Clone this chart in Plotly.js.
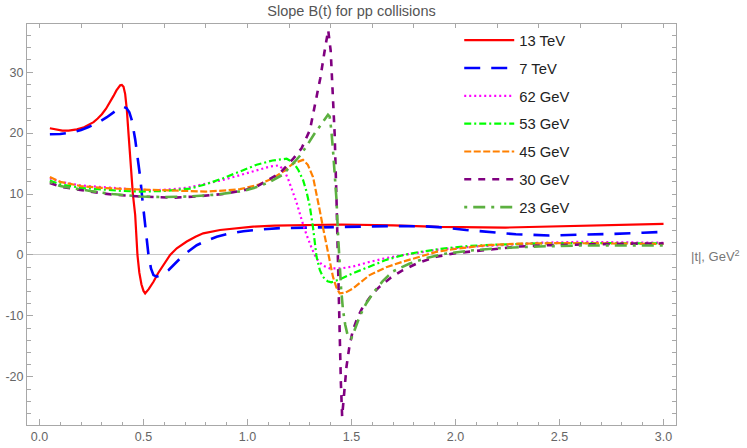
<!DOCTYPE html>
<html>
<head>
<meta charset="utf-8">
<script src="https://cdn.plot.ly/plotly-3.0.1.min.js"></script>
<style>
html,body{margin:0;padding:0;background:#fff;}
#chart{width:747px;height:448px;}
</style>
</head>
<body>
<div id="chart"></div>
<script>
// ---- data ----
var seriesNames = ["13 TeV", "7 TeV", "62 GeV", "53 GeV", "45 GeV", "30 GeV", "23 GeV"];

var t13 = [0.05,0.08,0.11,0.14,0.18,0.21,0.236,0.26,0.28,0.30,0.32,0.34,0.356,0.37,0.38,0.388,0.396,0.404,0.412,0.42,0.428,0.438,0.449,0.46,0.471,0.48,0.49,0.50,0.508,0.525,0.548,0.57,0.596,0.628,0.66,0.708,0.75,0.787,0.868,0.95,1.027,1.13,1.236,1.45,1.7,1.92,2.24,2.56,2.8,3.0];
var b13 = [20.8,20.55,20.4,20.4,20.6,20.9,21.3,21.8,22.4,23.1,24.0,25.1,26.1,27.0,27.5,27.85,27.9,27.6,26.4,23.8,19.9,15.0,10.0,6.6,0.0,-2.9,-4.8,-5.9,-6.3,-5.6,-4.4,-3.0,-1.6,0.0,1.1,2.2,3.0,3.55,4.1,4.4,4.65,4.8,4.9,5.0,4.85,4.6,4.5,4.75,4.9,5.1];

var t7 = [0.05,0.1,0.148,0.2,0.236,0.28,0.324,0.35,0.37,0.388,0.404,0.418,0.432,0.444,0.46,0.472,0.484,0.495,0.505,0.516,0.524,0.536,0.548,0.564,0.585,0.62,0.65,0.684,0.72,0.756,0.80,0.852,0.90,0.98,1.05,1.155,1.3,1.5,1.7,1.85,1.95,2.05,2.15,2.29,2.45,2.6,2.75,2.9,3.0];
var b7 = [19.8,19.85,20.05,20.5,21.0,21.7,22.6,23.2,23.8,24.2,24.3,24.1,23.4,22.1,19.0,16.0,12.8,9.0,5.5,2.7,0.0,-2.2,-3.3,-3.55,-3.3,-2.5,-1.5,-0.3,0.7,1.6,2.3,3.0,3.4,3.9,4.15,4.4,4.5,4.6,4.75,4.7,4.5,4.1,3.8,3.4,3.2,3.3,3.45,3.65,3.8];

var t62 = [0.05,0.1,0.2,0.3,0.436,0.55,0.644,0.72,0.804,0.88,0.964,1.04,1.107,1.15,1.175,1.195,1.215,1.236,1.26,1.283,1.31,1.332,1.36,1.395,1.45,1.507,1.58,1.667,1.75,1.827,1.9,1.987,2.1,2.227,2.4,2.6,2.8,3.0];
var b62 = [12.6,12.0,11.4,11.1,10.8,10.6,10.8,11.1,11.7,12.3,13.1,13.8,14.5,14.7,14.0,12.5,10.5,8.6,5.8,3.4,1.0,-0.6,-1.7,-2.2,-2.2,-1.9,-1.2,-0.5,0.0,0.4,0.8,1.1,1.4,1.6,2.0,2.15,2.1,2.0];

var t53 = [0.05,0.1,0.2,0.3,0.4,0.484,0.6,0.724,0.8,0.883,0.96,1.044,1.12,1.188,1.22,1.245,1.267,1.283,1.3,1.315,1.332,1.348,1.363,1.385,1.403,1.45,1.507,1.587,1.667,1.75,1.827,1.95,2.067,2.2,2.4,2.6,2.8,3.0];
var b53 = [12.2,11.6,11.0,10.7,10.5,10.4,10.5,10.9,11.6,12.6,13.7,14.8,15.5,15.8,15.2,13.9,12.3,10.5,7.9,4.5,-0.3,-2.5,-3.6,-4.3,-4.5,-3.9,-3.0,-1.9,-0.8,0.0,0.5,1.1,1.5,1.7,1.9,1.95,1.95,1.9];

var t45 = [0.05,0.1,0.2,0.3,0.436,0.6,0.724,0.8,0.9,0.964,1.05,1.123,1.18,1.219,1.267,1.29,1.315,1.333,1.347,1.363,1.38,1.395,1.411,1.427,1.443,1.47,1.507,1.587,1.667,1.747,1.827,1.907,2.0,2.147,2.3,2.5,2.7,3.0];
var b45 = [12.8,12.0,11.3,11.0,10.8,10.6,10.4,10.4,10.6,10.8,11.5,12.6,13.9,15.0,15.6,14.8,12.8,10.0,7.4,4.5,1.4,-1.3,-3.6,-5.3,-6.3,-6.2,-5.5,-3.3,-2.0,-1.1,-0.3,0.5,1.0,1.6,1.85,1.95,1.9,1.8];

var t30 = [0.05,0.1,0.244,0.35,0.484,0.644,0.75,0.883,0.98,1.044,1.1,1.155,1.22,1.26,1.3,1.33,1.35,1.37,1.388,1.40,1.41,1.419,1.428,1.435,1.443,1.449,1.455,1.465,1.476,1.49,1.507,1.53,1.555,1.6,1.635,1.69,1.747,1.82,1.907,2.0,2.147,2.307,2.45,2.643,2.8,3.0];
var b30 = [11.8,11.2,10.4,9.9,9.6,9.4,9.6,10.0,10.6,11.2,12.3,13.4,15.8,17.5,20.5,25.5,29.0,33.3,36.9,33.5,27.0,19.9,9.0,-1.9,-12.8,-21.0,-26.5,-22.5,-18.3,-15.0,-12.3,-10.2,-8.5,-6.4,-5.2,-3.7,-2.5,-1.3,-0.3,0.3,0.8,1.4,1.6,1.75,1.85,1.9];

var t23 = [0.05,0.1,0.244,0.35,0.484,0.6,0.724,0.85,0.98,1.05,1.107,1.171,1.219,1.25,1.283,1.32,1.36,1.387,1.395,1.403,1.411,1.42,1.428,1.435,1.443,1.45,1.459,1.47,1.483,1.499,1.515,1.539,1.57,1.603,1.65,1.699,1.78,1.859,1.95,2.067,2.2,2.4,2.6,2.8,3.0];
var b23 = [12.0,11.3,10.5,10.0,9.6,9.5,9.6,9.9,10.5,11.2,12.0,13.2,15.0,16.2,17.8,19.8,21.7,23.0,22.7,20.5,17.2,13.0,9.0,3.5,-1.9,-5.5,-9.0,-11.5,-13.4,-13.7,-12.3,-10.1,-8.0,-6.3,-4.3,-2.7,-1.4,-0.5,0.2,0.7,1.1,1.4,1.55,1.6,1.55];

var xTickVals = [0.0,0.5,1.0,1.5,2.0,2.5,3.0];
var xTickText = ["0.0","0.5","1.0","1.5","2.0","2.5","3.0"];
var yTickVals = [-20,-10,0,10,20,30];
var yTickText = ["-20","-10","0","10","20","30"];

// ---- styles ----
var styles = [
  {color:"#FF0000", width:2.2, dash:"solid"},
  {color:"#0000FF", width:2.6, dash:"16px,11px"},
  {color:"#FF00FF", width:2.2, dash:"2px,3px"},
  {color:"#00FF00", width:2.2, dash:"7px,3px,2px,3px"},
  {color:"#FF8000", width:2.2, dash:"7px,2.5px"},
  {color:"#800080", width:2.6, dash:"7px,7px"},
  {color:"#5CB040", width:2.6, dash:"3px,6px,12px,6px"}
];
var xs = [t13,t7,t62,t53,t45,t30,t23];
var ys = [b13,b7,b62,b53,b45,b30,b23];

var traces = [];
for (var i = 0; i < xs.length; i++) {
  traces.push({
    x: xs[i], y: ys[i], type: "scatter", mode: "lines",
    name: seriesNames[i], legendgroup: "g" + i,
    line: {color: styles[i].color, width: styles[i].width, dash: styles[i].dash},
    hoverinfo: "skip"
  });
}
// helper trace for the unlabeled top / right frame ticks
traces.push({x:[], y:[], xaxis:"x2", yaxis:"y2", showlegend:false, hoverinfo:"skip", type:"scatter", mode:"lines"});

var xr = [-0.06, 3.06], yr = [-27.9, 37.9];
var frame = "#A8A8A8", tickLab = "#666666";
var layout = {
  width: 747, height: 448,
  margin: {l: 27, r: 71, t: 24, b: 23, pad: 0},
  paper_bgcolor: "#ffffff", plot_bgcolor: "#ffffff",
  font: {family: "Liberation Sans, Arial, sans-serif", color: "#333"},
  title: {text: "Slope B(t) for pp collisions", x: 0.5, xref: "paper", xanchor: "center",
          y: 0.976, yref: "container", yanchor: "middle",
          font: {size: 14.5, color: "#555555", family: "Liberation Sans, Arial, sans-serif"}},
  showlegend: true,
  legend: {x: 0.666, y: 1.0, xanchor: "left", yanchor: "top", bgcolor: "rgba(0,0,0,0)",
           traceorder: "grouped", tracegroupgap: 5.6, itemwidth: 50,
           font: {size: 14.8, color: "#222222"}},
  xaxis: {range: xr, showgrid: false, zeroline: false, showline: true, mirror: true,
          linecolor: frame, linewidth: 1,
          tickmode: "array", tickvals: xTickVals, ticktext: xTickText,
          ticks: "inside", ticklen: 6, tickcolor: frame, tickwidth: 1,
          minor: {dtick: 0.1, tick0: 0, ticks: "inside", ticklen: 3.5, tickcolor: frame, showgrid: false},
          tickfont: {size: 12.5, color: tickLab}},
  yaxis: {range: yr, showgrid: false, zeroline: true, zerolinecolor: "#C8C8C8", zerolinewidth: 1,
          showline: true, mirror: true, linecolor: frame, linewidth: 1,
          tickmode: "array", tickvals: yTickVals, ticktext: yTickText,
          ticks: "inside", ticklen: 6, tickcolor: frame, tickwidth: 1,
          minor: {dtick: 2, tick0: 0, ticks: "inside", ticklen: 3.5, tickcolor: frame, showgrid: false},
          tickfont: {size: 12.5, color: tickLab}},
  xaxis2: {range: xr, overlaying: "x", side: "top", showgrid: false, zeroline: false, showline: false,
           tick0: 0, dtick: 0.2, ticks: "inside", ticklen: 4, tickcolor: frame, showticklabels: false},
  yaxis2: {range: yr, overlaying: "y", side: "right", showgrid: false, zeroline: false, showline: false,
           tick0: 0, dtick: 2, ticks: "inside", ticklen: 4, tickcolor: frame, showticklabels: false},
  annotations: [{
    text: "|t|, GeV<sup>2</sup>", xref: "paper", x: 1, xanchor: "left", xshift: 13,
    yref: "y", y: 0, yanchor: "middle", yshift: -1, showarrow: false,
    font: {size: 13, color: "#777777"}
  }]
};

Plotly.newPlot("chart", traces, layout, {staticPlot: true, displayModeBar: false});
</script>
</body>
</html>
